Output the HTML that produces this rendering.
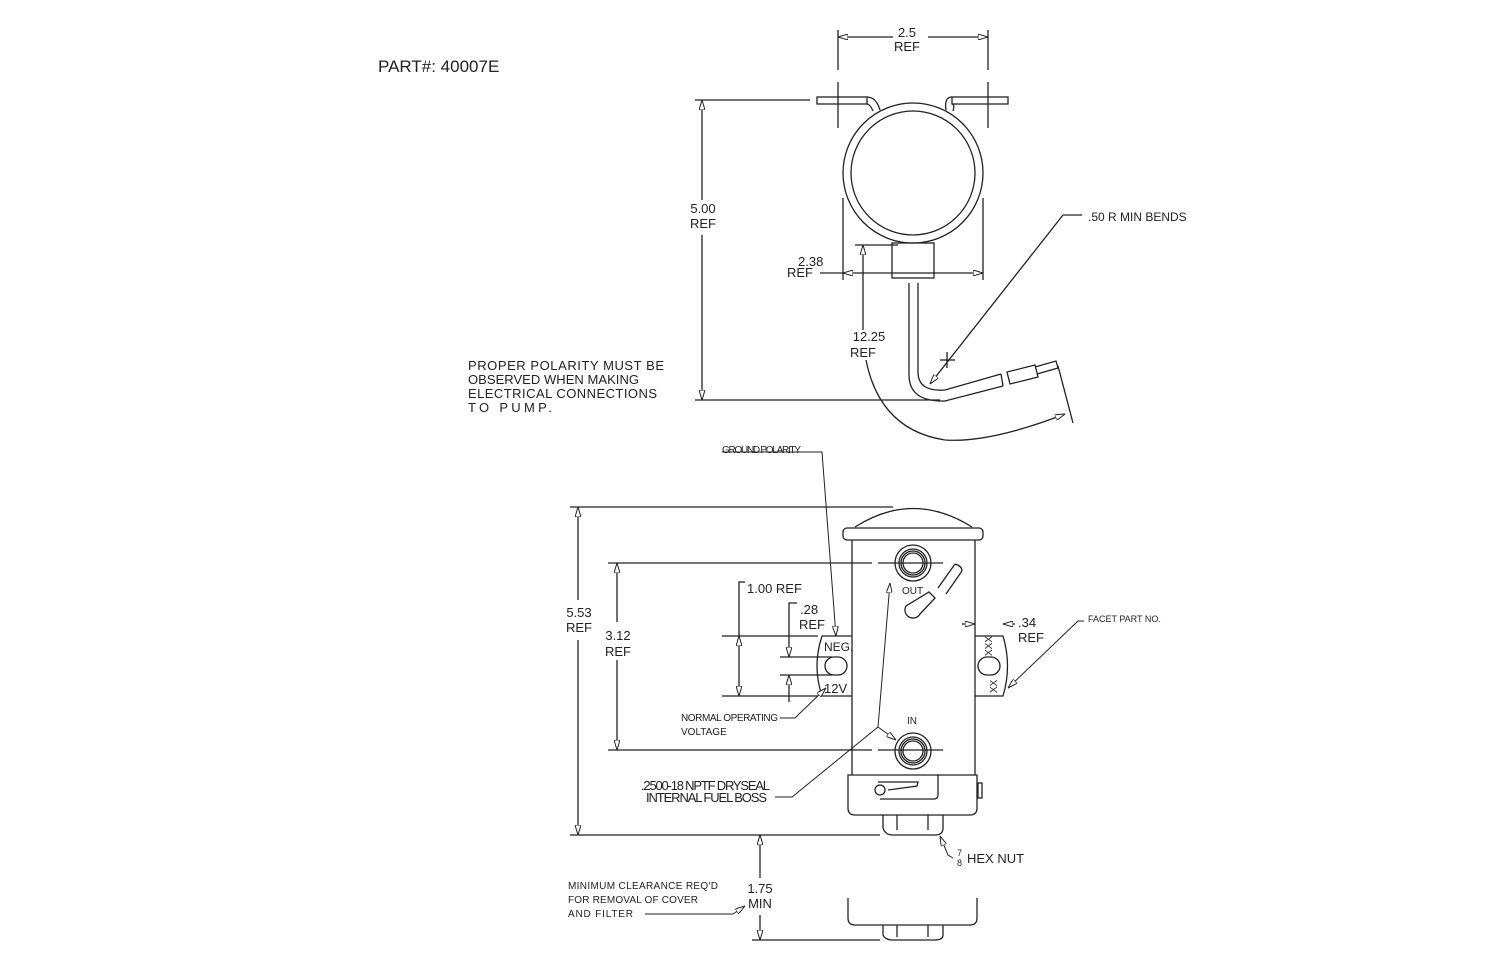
<!DOCTYPE html>
<html><head><meta charset="utf-8"><style>
html,body{margin:0;padding:0;background:#fff;}
svg{display:block}
text{font-family:"Liberation Sans",sans-serif;fill:#222;}
.s{font-size:13px}
.c{font-size:10px}
</style></head><body>
<svg width="1500" height="971" viewBox="0 0 1500 971" xmlns="http://www.w3.org/2000/svg">
<defs><marker id="a" viewBox="0 0 10 6" refX="10" refY="3" markerWidth="10" markerHeight="6" orient="auto-start-reverse" markerUnits="userSpaceOnUse"><path d="M0,0 L10,3 L0,6 z" fill="#fff" stroke="#222" stroke-width="1"/></marker></defs>
<g fill="none" stroke="#222" stroke-width="1.3">
<!-- TOP VIEW -->
<rect x="817" y="97" width="50" height="7"/><rect x="952" y="97" width="56" height="7"/>
<path d="M867,97 Q876,97 880,110 M867,104 Q870,104 873,111"/>
<path d="M952,97 Q944,97 946,110 M952,104 Q955,104 953,111"/>
<circle cx="913" cy="173" r="70"/><circle cx="913" cy="173" r="62"/>
<rect x="892" y="243" width="42" height="35"/>
<path d="M909,283 V375 Q909,402 945,401 L1003,386 M918,283 V372 Q918,392 945,390 L1001,374"/>
<path d="M1003,386 L1001,374"/>
<path d="M1007,372 L1035,365 L1038,377 L1010,384 Z M1035,367 L1056,361 L1058,368 L1037,374"/>
<!-- dims top -->
<line x1="838" y1="30" x2="838" y2="70"/><line x1="988" y1="30" x2="988" y2="70"/>
<line x1="838" y1="82" x2="838" y2="128"/><line x1="988" y1="82" x2="988" y2="128"/>
<line x1="838" y1="37" x2="893" y2="37" marker-start="url(#a)"/><line x1="928" y1="37" x2="988" y2="37" marker-end="url(#a)"/>
<line x1="695" y1="100" x2="810" y2="100"/><line x1="695" y1="400" x2="940" y2="400"/>
<line x1="702" y1="100" x2="702" y2="200" marker-start="url(#a)"/><line x1="702" y1="235" x2="702" y2="400" marker-end="url(#a)"/>
<line x1="843" y1="198" x2="843" y2="280"/><line x1="983" y1="198" x2="983" y2="280"/>
<line x1="820" y1="273" x2="843" y2="273"/>
<line x1="843" y1="273" x2="983" y2="273" marker-start="url(#a)" marker-end="url(#a)"/>
<line x1="855" y1="245" x2="898" y2="245"/>
<line x1="863" y1="245" x2="863" y2="330" marker-start="url(#a)"/>
<path d="M866,360 Q880,430 945,440 Q990,443 1065,414" marker-end="url(#a)"/>
<line x1="1058" y1="366" x2="1073" y2="423"/>
<line x1="1082" y1="215" x2="1063" y2="215"/>
<line x1="1063" y1="215" x2="930" y2="384" marker-end="url(#a)"/>
<line x1="940" y1="360" x2="955" y2="360"/><line x1="947" y1="352" x2="947" y2="368"/>
<!-- BOTTOM VIEW body -->
<path d="M855,527 Q913,490 972,527"/>
<rect x="843" y="528" width="140" height="12" rx="4"/>
<line x1="852" y1="540" x2="852" y2="775"/><line x1="975" y1="540" x2="975" y2="775"/>
<circle cx="913" cy="563" r="18"/><circle cx="913" cy="563" r="14"/><circle cx="913" cy="563" r="12"/><circle cx="913" cy="563" r="10"/>
<circle cx="913" cy="751" r="18"/><circle cx="913" cy="751" r="14"/><circle cx="913" cy="751" r="12"/><circle cx="913" cy="751" r="10"/>
<path d="M906,606 a8,8 0 1,0 14,8 L935,598 L929,592 Z"/>
<path d="M938,588 L955,564 M946,594 L962,571 M955,564 Q962,566 962,571"/>
<path d="M852,636 H822 Q812,666 822,696 H852"/>
<rect x="825" y="657" width="22" height="18" rx="9"/>
<path d="M975,636 H1003 Q1012,666 1003,696 H975"/>
<rect x="978" y="657" width="22" height="18" rx="9"/>
<path d="M848,775 H977 V808 Q977,815 970,815 H855 Q848,815 848,808 Z"/>
<path d="M878,782 H918 L917,786 L888,790 M938,775 V795 Q938,799 934,799 H880"/>
<circle cx="880" cy="790" r="5"/>
<rect x="978" y="783" width="4" height="15"/>
<path d="M883,815 V828 Q885,835 893,835 H935 Q943,835 943,828 V815 M897,815 V830 M928,815 V830"/>
<path d="M848,898 V918 Q848,925 855,925 H970 Q977,925 977,918 V898"/>
<path d="M883,925 V935 Q885,940 893,940 H935 Q943,940 943,935 V925 M897,925 V937 M928,925 V937"/>
<!-- dims bottom -->
<line x1="570" y1="507" x2="893" y2="507"/><line x1="570" y1="835" x2="880" y2="835"/>
<line x1="578" y1="507" x2="578" y2="600" marker-start="url(#a)"/><line x1="578" y1="640" x2="578" y2="835" marker-end="url(#a)"/>
<line x1="608" y1="563" x2="872" y2="563"/><line x1="878" y1="563" x2="943" y2="563"/>
<line x1="608" y1="750" x2="872" y2="750"/><line x1="878" y1="750" x2="943" y2="750"/>
<line x1="617" y1="563" x2="617" y2="622" marker-start="url(#a)"/><line x1="617" y1="660" x2="617" y2="750" marker-end="url(#a)"/>
<line x1="722" y1="636" x2="818" y2="636"/><line x1="722" y1="696" x2="818" y2="696"/>
<path d="M745,582 H739 V636"/>
<line x1="739" y1="636" x2="739" y2="696" marker-start="url(#a)" marker-end="url(#a)"/>
<line x1="780" y1="657" x2="832" y2="657"/><line x1="780" y1="675" x2="832" y2="675"/>
<path d="M797,603 H789 V657" marker-end="url(#a)"/>
<line x1="789" y1="702" x2="789" y2="675" marker-end="url(#a)"/>
<line x1="962" y1="624" x2="975" y2="624" marker-end="url(#a)"/>
<line x1="1015" y1="624" x2="1003" y2="624" marker-end="url(#a)"/>
<path d="M722,452 H822 L836,636" marker-end="url(#a)" stroke-width="1"/>
<path d="M780,718 H795 L826,688" marker-end="url(#a)" stroke-width="1"/>
<path d="M775,797 H792 L878,727 L890,583" marker-end="url(#a)" stroke-width="1"/>
<line x1="878" y1="727" x2="896" y2="740" marker-end="url(#a)" stroke-width="1"/>
<path d="M1084,621 H1078 L1008,688" marker-end="url(#a)" stroke-width="1"/>
<path d="M953,858 L948,855 L940,836" marker-end="url(#a)" stroke-width="1"/>
<line x1="752" y1="940" x2="880" y2="940"/>
<line x1="760" y1="835" x2="760" y2="878" marker-start="url(#a)"/><line x1="760" y1="915" x2="760" y2="940" marker-end="url(#a)"/>
<path d="M645,914 H733 L745,906" marker-end="url(#a)" stroke-width="1"/>
</g>
<text x="378" y="72" style="font-size:17px">PART#:  40007E</text>
<g class="s">
<text x="907" y="37" text-anchor="middle">2.5</text><text x="907" y="51" text-anchor="middle">REF</text>
<text x="703" y="213" text-anchor="middle">5.00</text><text x="703" y="228" text-anchor="middle">REF</text>
<text x="798" y="266">2.38</text><text x="787" y="277">REF</text>
<text x="869" y="341" text-anchor="middle">12.25</text><text x="863" y="357" text-anchor="middle">REF</text>
<text x="1088" y="221" style="font-size:12px">.50 R MIN BENDS</text>
<text x="468" y="370" textLength="196">PROPER POLARITY MUST BE</text>
<text x="468" y="384" textLength="171">OBSERVED WHEN MAKING</text>
<text x="468" y="398" textLength="189">ELECTRICAL CONNECTIONS</text>
<text x="468" y="412" textLength="84">TO PUMP.</text>
<text x="579" y="617" text-anchor="middle">5.53</text><text x="579" y="632" text-anchor="middle">REF</text>
<text x="618" y="640" text-anchor="middle">3.12</text><text x="618" y="656" text-anchor="middle">REF</text>
<text x="747" y="593">1.00  REF</text>
<text x="800" y="614">.28</text><text x="799" y="629">REF</text>
<text x="1018" y="627">.34</text><text x="1018" y="642">REF</text>
<text x="824" y="651" style="font-size:12px">NEG.</text>
<text x="824" y="693">12V</text>
<text x="641" y="790" textLength="129">.2500-18 NPTF DRYSEAL</text>
<text x="646" y="802" textLength="121">INTERNAL FUEL BOSS</text>
<text x="760" y="893" text-anchor="middle">1.75</text><text x="760" y="908" text-anchor="middle">MIN</text>
<text x="967" y="863">HEX NUT</text>
</g>
<text x="957" y="856" style="font-size:9px">7</text><text x="957" y="866" style="font-size:9px">8</text>
<g class="c">
<text x="722" y="453" textLength="79">GROUND POLARITY</text>
<text x="681" y="721" textLength="97">NORMAL OPERATING</text><text x="681" y="735">VOLTAGE</text>
<text x="1088" y="622" style="font-size:9px">FACET PART NO.</text>
<text x="568" y="889" textLength="150">MINIMUM CLEARANCE REQ'D</text>
<text x="568" y="903" textLength="130">FOR REMOVAL OF COVER</text>
<text x="568" y="917" textLength="65">AND FILTER</text>
<text x="902" y="594">OUT</text><text x="907" y="724">IN</text>
<text x="992" y="656" transform="rotate(-90 992 656)" font-size="10">XXX</text>
<text x="997" y="693" transform="rotate(-90 997 693)" font-size="10">XX</text>
</g>
</svg>
</body></html>
